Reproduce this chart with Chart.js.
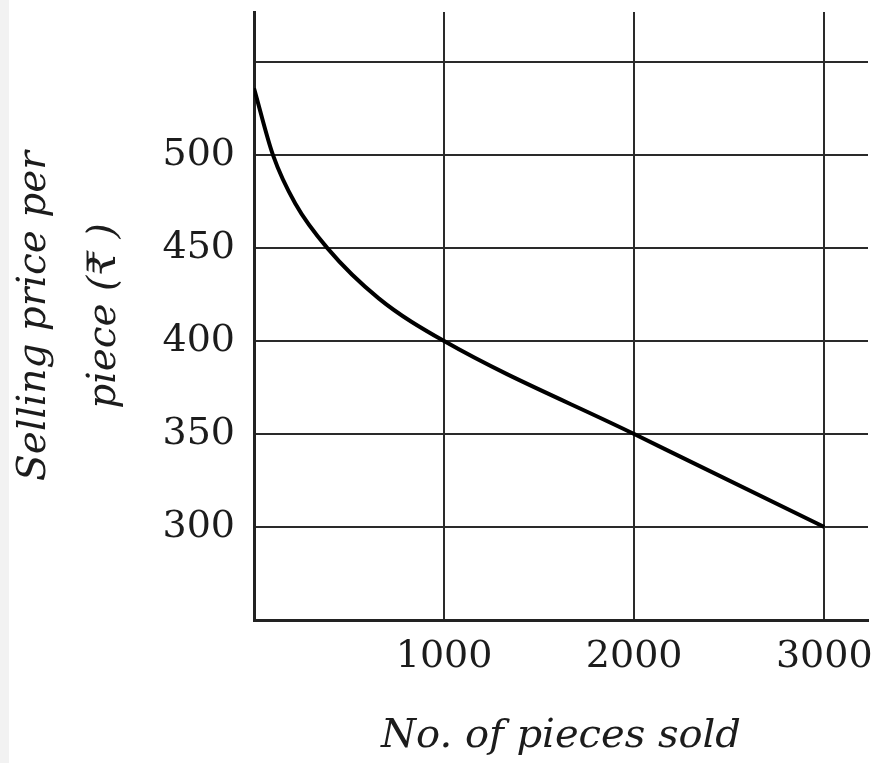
<!DOCTYPE html>
<html>
<head>
<meta charset="utf-8">
<script src="https://cdn.jsdelivr.net/npm/chart.js@4"></script>
<style>
    html, body { margin: 0; padding: 0; background: #fff; }
    #priceChart {
        display: block;
        background: linear-gradient(to right, #f2f2f2 0, #f2f2f2 9px, #fff 9px);
    }
</style>
</head>
<body>
<canvas id="priceChart" width="883" height="763"></canvas>
<script>
// values
const piecesSold = [0, 100, 217, 386, 656, 1000, 2000, 3000];
const sellingPrice = [536, 500, 474, 450, 423, 400, 350, 300];

const xGridValues = [0, 1000, 2000, 3000];
const yGridValues = [250, 300, 350, 400, 450, 500, 550];
const xTickLabels = ['1000', '2000', '3000'];
const yTickLabels = ['300', '350', '400', '450', '500'];

const ink = '#1c1c1c';
const serif = "'DejaVu Serif', 'Liberation Serif', serif";

document.addEventListener("DOMContentLoaded", function () {

    const canvas = document.getElementById("priceChart");
    if (!canvas) return;

    new Chart(canvas, {
        type: "line",
        data: {
            datasets: [{
                data: piecesSold.map((x, i) => ({ x: x, y: sellingPrice[i] })),
                borderColor: '#000',
                borderWidth: 4,
                pointRadius: 0,
                cubicInterpolationMode: 'monotone',
                fill: false
            }]
        },
        options: {
            responsive: false,
            animation: false,
            layout: {
                padding: { top: 12, right: 15, left: 0, bottom: 0 }
            },
            plugins: {
                legend: { display: false },
                tooltip: { enabled: false }
            },
            scales: {
                x: {
                    type: 'linear',
                    min: 0,
                    max: 3230,
                    afterBuildTicks: function (scale) {
                        scale.ticks = xGridValues.map(v => ({ value: v }));
                    },
                    afterFit: function (scale) {
                        scale.height = 143;
                        scale.paddingLeft = 0;
                        scale.paddingRight = 0;
                    },
                    grid: {
                        color: '#2a2a2a',
                        lineWidth: 2,
                        drawTicks: false
                    },
                    border: { color: '#222', width: 3 },
                    ticks: {
                        padding: 14,
                        color: ink,
                        font: { family: serif, size: 38 },
                        maxRotation: 0,
                        autoSkip: false,
                        callback: function (value) {
                            return xTickLabels.includes(String(value)) ? String(value) : '';
                        }
                    },
                    title: {
                        display: true,
                        text: 'No. of pieces sold',
                        color: ink,
                        font: { family: serif, size: 40, style: 'italic', lineHeight: 1.2 },
                        padding: { top: 0, bottom: 2 }
                    }
                },
                y: {
                    type: 'linear',
                    min: 250,
                    max: 577,
                    afterBuildTicks: function (scale) {
                        scale.ticks = yGridValues.map(v => ({ value: v }));
                    },
                    afterFit: function (scale) {
                        scale.width = 254;
                        scale.paddingTop = 0;
                        scale.paddingBottom = 0;
                    },
                    grid: {
                        color: '#2a2a2a',
                        lineWidth: 2,
                        drawTicks: false
                    },
                    border: { color: '#222', width: 3 },
                    ticks: {
                        padding: 19,
                        color: ink,
                        font: { family: serif, size: 38 },
                        autoSkip: false,
                        callback: function (value) {
                            return yTickLabels.includes(String(value)) ? String(value) : '';
                        }
                    },
                    title: {
                        display: true,
                        text: ['Selling price per', 'piece (₹ )'],
                        color: ink,
                        font: { family: serif, size: 39, style: 'italic', lineHeight: 1.8 },
                        padding: { top: 0, bottom: 0 }
                    }
                }
            }
        }
    });
});
</script>
</body>
</html>
